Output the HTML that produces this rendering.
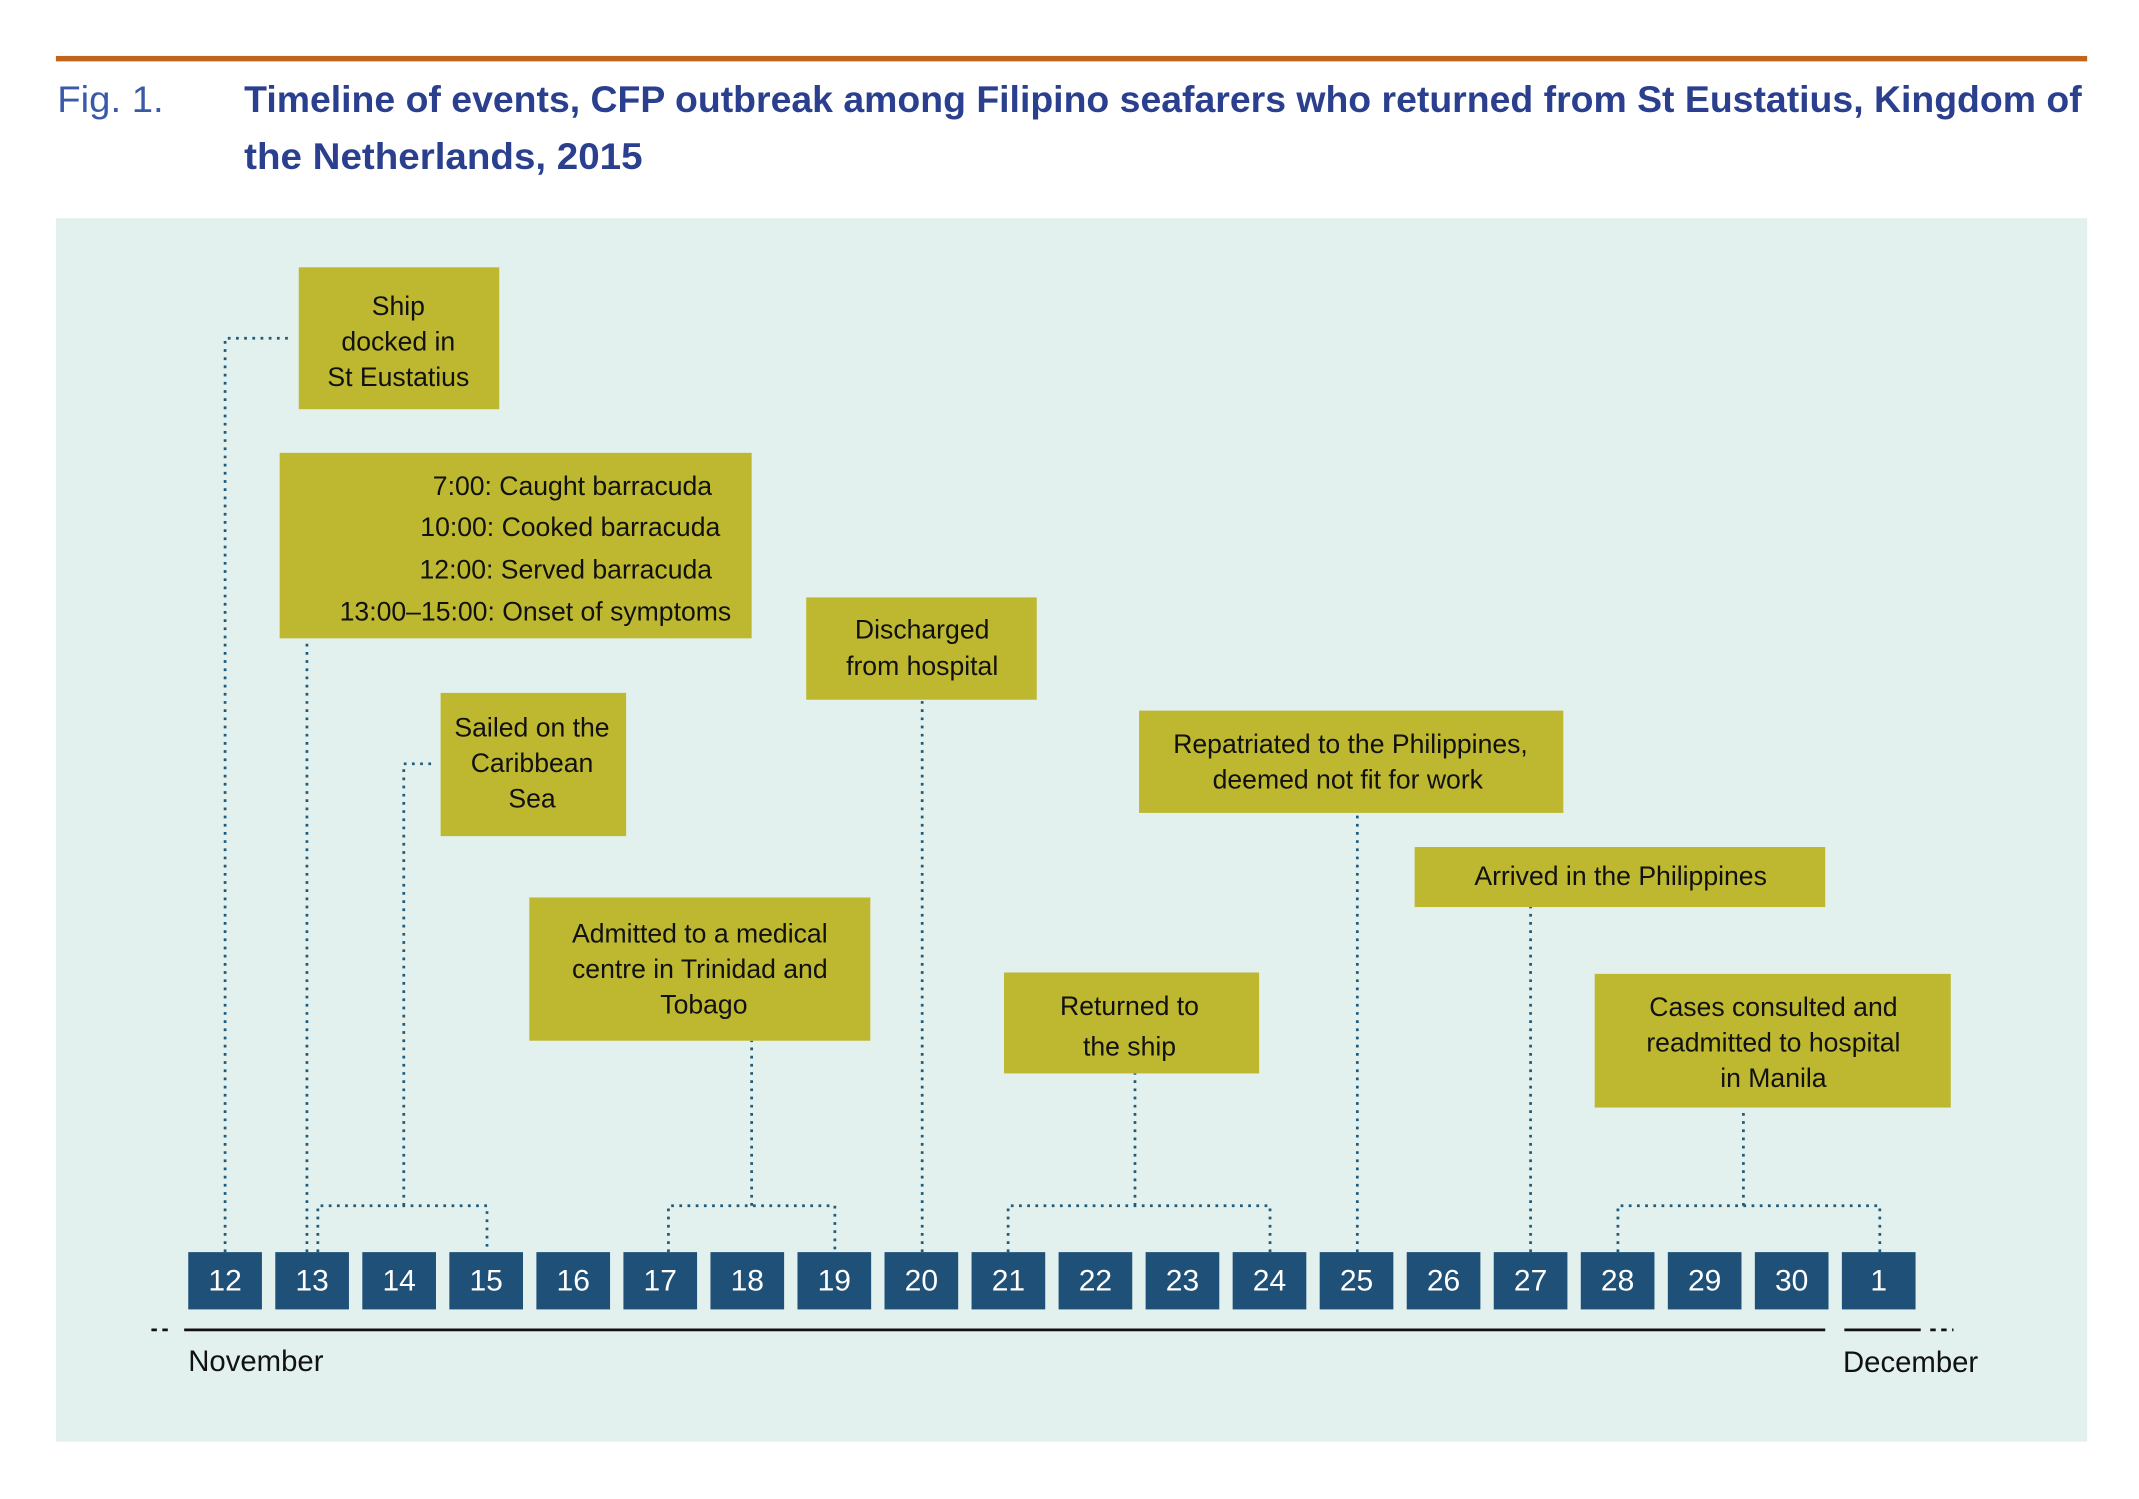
<!DOCTYPE html>
<html><head><meta charset="utf-8"><style>
html,body{margin:0;padding:0;background:#fff;}
svg{display:block;}
text{font-family:"Liberation Sans",sans-serif;}
</style></head><body>
<svg width="2139" height="1499" viewBox="0 0 1568 1099" preserveAspectRatio="none" xmlns="http://www.w3.org/2000/svg">
<rect x="41" y="41" width="1489" height="4" fill="#c0651e"/>
<text x="42" y="82" font-size="27" fill="#3a5aa8" textLength="78" lengthAdjust="spacingAndGlyphs">Fig. 1.</text>
<text x="179" y="82" font-size="27" font-weight="bold" fill="#2b3f8f" textLength="1347" lengthAdjust="spacingAndGlyphs">Timeline of events, CFP outbreak among Filipino seafarers who returned from St Eustatius, Kingdom of</text>
<text x="179" y="124" font-size="27" font-weight="bold" fill="#2b3f8f" textLength="292" lengthAdjust="spacingAndGlyphs">the Netherlands, 2015</text>
<rect x="41" y="160" width="1489" height="897" fill="#e2f1ee"/>
<g stroke="#1f5a7a" stroke-width="2" stroke-dasharray="2 4" fill="none">
<path d="M165 918V248H215"/>
<path d="M225 918V468"/>
<path d="M233 918V884H357V918M296 884V560H320"/>
<path d="M490 918V884H612V918M551 884V763"/>
<path d="M676 918V513"/>
<path d="M739 918V884H931V918M832 884V787"/>
<path d="M995 918V596"/>
<path d="M1122 918V665"/>
<path d="M1186 918V884H1378V918M1278 884V812"/>
</g>
<g fill="#bdb82f">
<rect x="219" y="196" width="147" height="104"/>
<rect x="205" y="332" width="346" height="136"/>
<rect x="323" y="508" width="136" height="105"/>
<rect x="388" y="658" width="250" height="105"/>
<rect x="591" y="438" width="169" height="75"/>
<rect x="736" y="713" width="187" height="74"/>
<rect x="835" y="521" width="311" height="75"/>
<rect x="1037" y="621" width="301" height="44"/>
<rect x="1169" y="714" width="261" height="98"/>
</g>
<g font-size="19.5" fill="#111" text-anchor="middle">
<text x="292" y="231">Ship</text><text x="292" y="257">docked in</text><text x="292" y="283">St Eustatius</text>
<text x="390" y="540">Sailed on the</text><text x="390" y="566">Caribbean</text><text x="390" y="592">Sea</text>
<text x="513" y="691">Admitted to a medical</text><text x="513" y="717">centre in Trinidad and</text><text x="516" y="743">Tobago</text>
<text x="676" y="468">Discharged</text><text x="676" y="495">from hospital</text>
<text x="828" y="744">Returned to</text><text x="828" y="774">the ship</text>
<text x="990" y="552">Repatriated to the Philippines,</text><text x="988" y="578">deemed not fit for work</text>
<text x="1188" y="649">Arrived in the Philippines</text>
<text x="1300" y="745">Cases consulted and</text><text x="1300" y="771">readmitted to hospital</text><text x="1300" y="797">in Manila</text>
</g>
<g font-size="19.5" fill="#111" text-anchor="end">
<text x="522" y="363">7:00: Caught barracuda</text>
<text x="528" y="393">10:00: Cooked barracuda</text>
<text x="522" y="424">12:00: Served barracuda</text>
<text x="536" y="455">13:00–15:00: Onset of symptoms</text>
</g>
<g fill="#1f5078">
<rect x="138" y="918" width="54" height="42"/><rect x="201.8" y="918" width="54" height="42"/><rect x="265.6" y="918" width="54" height="42"/><rect x="329.4" y="918" width="54" height="42"/><rect x="393.2" y="918" width="54" height="42"/><rect x="457" y="918" width="54" height="42"/><rect x="520.8" y="918" width="54" height="42"/><rect x="584.6" y="918" width="54" height="42"/><rect x="648.4" y="918" width="54" height="42"/><rect x="712.2" y="918" width="54" height="42"/><rect x="776" y="918" width="54" height="42"/><rect x="839.8" y="918" width="54" height="42"/><rect x="903.6" y="918" width="54" height="42"/><rect x="967.4" y="918" width="54" height="42"/><rect x="1031.2" y="918" width="54" height="42"/><rect x="1095" y="918" width="54" height="42"/><rect x="1158.8" y="918" width="54" height="42"/><rect x="1222.6" y="918" width="54" height="42"/><rect x="1286.4" y="918" width="54" height="42"/><rect x="1350.2" y="918" width="54" height="42"/>
</g>
<g font-size="22" fill="#fff" text-anchor="middle">
<text x="165" y="946">12</text><text x="228.8" y="946">13</text><text x="292.6" y="946">14</text><text x="356.4" y="946">15</text><text x="420.2" y="946">16</text><text x="484" y="946">17</text><text x="547.8" y="946">18</text><text x="611.6" y="946">19</text><text x="675.4" y="946">20</text><text x="739.2" y="946">21</text><text x="803" y="946">22</text><text x="866.8" y="946">23</text><text x="930.6" y="946">24</text><text x="994.4" y="946">25</text><text x="1058.2" y="946">26</text><text x="1122" y="946">27</text><text x="1185.8" y="946">28</text><text x="1249.6" y="946">29</text><text x="1313.4" y="946">30</text><text x="1377.2" y="946">1</text>
</g>
<g stroke="#111" stroke-width="2">
<line x1="135" y1="975" x2="1338" y2="975"/>
<line x1="1352" y1="975" x2="1408" y2="975"/>
<line x1="111" y1="975" x2="127" y2="975" stroke-dasharray="4 4"/>
<line x1="1415" y1="975" x2="1432" y2="975" stroke-dasharray="4 4"/>
</g>
<text x="138" y="1005" font-size="21.5" fill="#111">November</text>
<text x="1351" y="1006" font-size="21.5" fill="#111">December</text>
</svg>
</body></html>
